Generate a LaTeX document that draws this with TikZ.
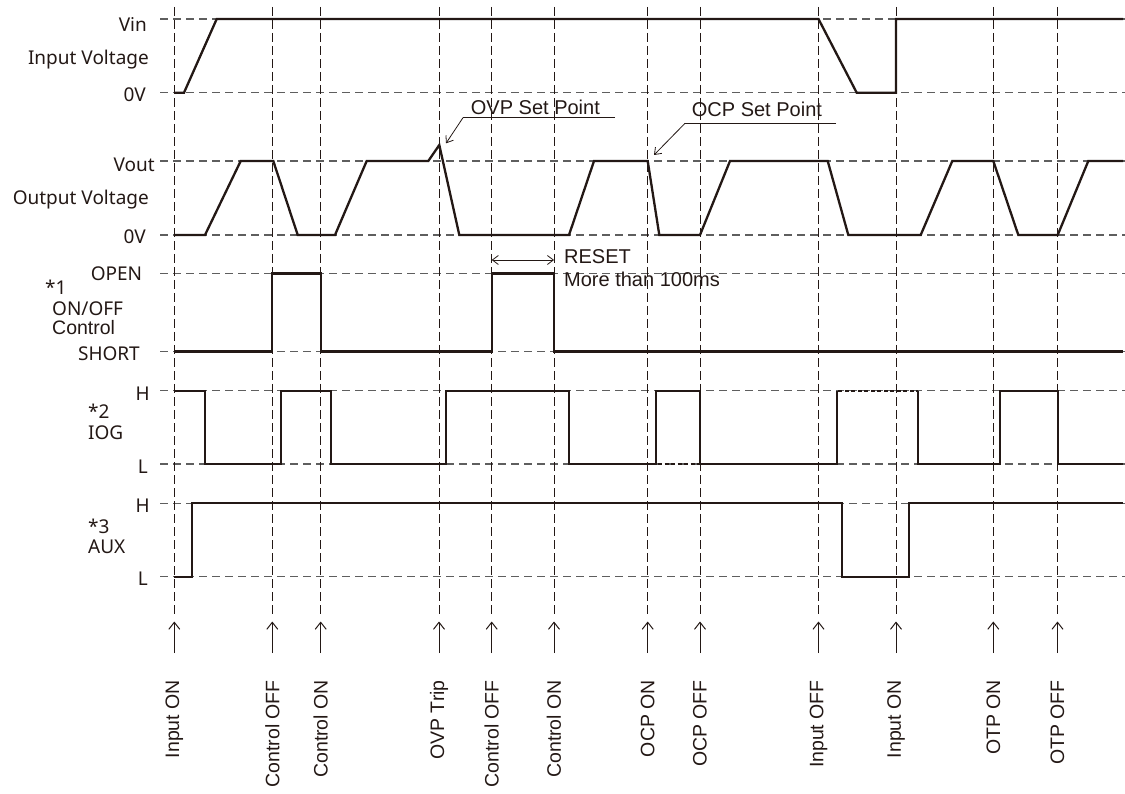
\documentclass[tikz,border=0pt]{standalone}
\usepackage{fontspec}
\setmainfont{Liberation Sans}
\newfontfamily\lblfont{Noto Sans}
\usetikzlibrary{arrows.meta}
\definecolor{ink}{HTML}{231815}
\definecolor{gridc}{HTML}{5E5E5E}
\tikzset{
  wave/.style={draw=ink, line width=2.3pt},
  wavedot/.style={draw=ink, line width=2.3pt, dash pattern=on 4pt off 2.5pt},
  hgrid/.style={draw=gridc, line width=1.1pt, dash pattern=on 8pt off 5pt},
  vgrid/.style={draw=ink, line width=0.8pt, dash pattern=on 9pt off 4pt},
  evarrow/.style={draw=ink, line width=1pt, -{Straight Barb[length=7pt,width=11pt]}},
  note/.style={draw=ink, line width=0.8pt},
  notearrow/.style={note, -{Straight Barb[length=6pt,width=9pt]}},
  lbl/.style={text=ink, font=\lblfont\fontsize{19}{19}\selectfont, inner sep=0pt},
  evlbl/.style={text=ink, font=\fontsize{19.5}{20}\selectfont, inner sep=0pt, rotate=90, anchor=east},
  ann/.style={text=ink, font=\fontsize{20}{22}\selectfont, inner sep=0pt, anchor=base west},
}
\begin{document}
\begin{tikzpicture}[x=1pt,y=-1pt]
\useasboundingbox (0,0) rectangle (1125,794);
% horizontal reference lines
\foreach \y in {19,92.7,161,235,273.5,351.5,390.7,464,503.3,576.7}
  \draw[hgrid] (160,\y) -- (1125,\y);
% event lines, arrows and labels
\foreach \x/\n/\t in {174.3/a/Input ON,272.3/b/Control OFF,320.7/c/Control ON,439/d/OVP Trip,491.7/e/Control OFF,554/f/Control ON,647.7/g/OCP ON,700/h/OCP OFF,818.5/i/Input OFF,896/j/Input ON,993.3/k/OTP ON,1057.5/l/OTP OFF}{
  \coordinate (top\n) at (\x,7);
  \coordinate (tip\n) at (\x,621.5);
  \coordinate (bot\n) at (\x,653);
  \draw[vgrid] (top\n) -- (\x,617);
  \draw[evarrow] (bot\n) -- (tip\n);
  \node[evlbl] (lab\n) at (\x,680) {\t};
}
% left labels
\node[lbl, anchor=base east] (vin) at (147,31.7) {Vin};
\node[lbl, anchor=base east] (inv) at (149,65) {Input Voltage};
\node[lbl, anchor=base east] (vi0) at (146,101.7) {0V};
\node[lbl, anchor=base east] (vout) at (155,171.7) {Vout};
\node[lbl, anchor=base east] (outv) at (149,205) {Output Voltage};
\node[lbl, anchor=base east] (vo0) at (146,243.3) {0V};
\node[lbl, anchor=base east] (open) at (142.3,280.7) {OPEN};
\node[lbl, anchor=base west] (n1) at (45,295) {*1};
\node[lbl, anchor=base west] (onoff) at (52,316) {ON/OFF};
\node[text=ink, font=\fontsize{19.5}{20}\selectfont, inner sep=0pt, anchor=base west] (ctl) at (52,335) {Control};
\node[lbl, anchor=base east] (short) at (140,360.7) {SHORT};
\node[lbl, anchor=base east] (igh) at (150,400.7) {H};
\node[lbl, anchor=base west] (n2) at (88,418) {*2};
\node[lbl, anchor=base west] (iog) at (88,439) {IOG};
\node[lbl, anchor=base east] (igl) at (148,473.3) {L};
\node[lbl, anchor=base east] (axh) at (150,512) {H};
\node[lbl, anchor=base west] (n3) at (88,533) {*3};
\node[lbl, anchor=base west] (aux) at (88,553) {AUX};
\node[lbl, anchor=base east] (axl) at (148,585) {L};
% Input voltage
\draw[wave] (174.3,92.7) -- (184,92.7) -- (216.7,19) -- (818.5,19) -- (856.7,92.7) -- (896,92.7) -- (896,19) -- (1123,19);
% Output voltage
\draw[wave] (174.3,235) -- (205,235) -- (240.7,161) -- (273.3,161) -- (297.7,235) -- (335,235) -- (366.7,161) -- (428.3,161) -- (439.3,145) -- (459.3,235) -- (569,235) -- (594,161) -- (647.7,161) -- (659.3,235) -- (700,235) -- (730,161) -- (827.7,161) -- (848.3,235) -- (920.7,235) -- (952.3,161) -- (993.3,161) -- (1018.3,235) -- (1057.7,235) -- (1088.3,161) -- (1123,161);
% ON/OFF control
\draw[wave] (174.3,351.5) -- (272.3,351.5) -- (272.3,273.5) -- (320.7,273.5) -- (320.7,351.5) -- (491.7,351.5) -- (491.7,273.5) -- (554,273.5) -- (554,351.5) -- (1123,351.5);
% IOG
\draw[wave] (174.3,390.7) -- (205,390.7) -- (205,464) -- (281,464) -- (281,390.7) -- (331,390.7) -- (331,464) -- (445.7,464) -- (445.7,390.7) -- (569,390.7) -- (569,464) -- (656,464) -- (656,390.7) -- (700,390.7) -- (700,464) -- (836.7,464) -- (836.7,390.7);
\draw[wavedot] (658,464) -- (700,464);
\draw[wavedot] (838,390.7) -- (918.3,390.7);
\draw[wave] (918.3,390.7) -- (918.3,464) -- (1000,464) -- (1000,390.7) -- (1057.7,390.7) -- (1057.7,464) -- (1123,464);
% AUX
\draw[wave] (174.3,576.7) -- (191.7,576.7) -- (191.7,503.3) -- (842.3,503.3) -- (842.3,576.7) -- (909,576.7) -- (909,503.3) -- (1123,503.3);
% OVP annotation
\node[ann] (ovp) at (470.7,114.3) {OVP Set Point};
\coordinate (ovpa) at (463,117.7);
\coordinate (ovpb) at (615,117.7);
\coordinate (ovpt) at (446,143.3);
\draw[note] (ovpb) -- (ovpa);
\draw[notearrow] (ovpa) -- (ovpt);
% OCP annotation
\node[ann] (ocp) at (691.7,117) {OCP Set Point};
\coordinate (ocpa) at (685,123.3);
\coordinate (ocpb) at (836,123.3);
\coordinate (ocpt) at (654,155);
\draw[note] (ocpb) -- (ocpa);
\draw[notearrow] (ocpa) -- (ocpt);
% RESET
\coordinate (rsa) at (491.7,260);
\coordinate (rsb) at (554,260);
\draw[note, {Straight Barb[length=6pt,width=9pt]}-{Straight Barb[length=6pt,width=9pt]}] (rsa) -- (rsb);
\node[ann] (reset) at (564,264) {RESET};
\node[ann] (more) at (564,286.7) {More than 100ms};
\end{tikzpicture}
\end{document}
